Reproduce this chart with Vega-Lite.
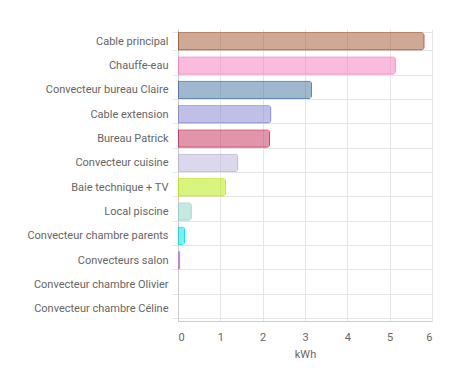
{
  "$schema": "https://vega.github.io/schema/vega-lite/v6.json",
  "width": 254,
  "height": 292,
  "autosize": {"type": "none"},
  "padding": {"left": 178, "top": 29, "right": 37, "bottom": 70},
  "background": "#ffffff",
  "data": {
    "values": [
      {"name": "Cable principal", "kwh": 5.82, "color": "#a0522d"},
      {"name": "Chauffe-eau", "kwh": 5.14, "color": "#f577bc"},
      {"name": "Convecteur bureau Claire", "kwh": 3.16, "color": "#41719f"},
      {"name": "Cable extension", "kwh": 2.2, "color": "#8080d2"},
      {"name": "Bureau Patrick", "kwh": 2.17, "color": "#c62a58"},
      {"name": "Convecteur cuisine", "kwh": 1.42, "color": "#b9b1d9"},
      {"name": "Baie technique + TV", "kwh": 1.13, "color": "#b5eb00"},
      {"name": "Local piscine", "kwh": 0.32, "color": "#8bd1c1"},
      {"name": "Convecteur chambre parents", "kwh": 0.165, "color": "#00dede"},
      {"name": "Convecteurs salon", "kwh": 0.05, "color": "#b57cc0"},
      {"name": "Convecteur chambre Olivier", "kwh": 0, "color": "#999999"},
      {"name": "Convecteur chambre Céline", "kwh": 0, "color": "#999999"}
    ]
  },
  "mark": {
    "type": "bar",
    "fillOpacity": 0.5,
    "strokeWidth": 1.5,
    "cornerRadiusEnd": 3
  },
  "encoding": {
    "y": {
      "field": "name",
      "type": "nominal",
      "sort": null,
      "scale": {"paddingInner": 0.26, "paddingOuter": 0.13},
      "axis": {
        "title": null,
        "tickBand": "extent",
        "ticks": true,
        "tickSize": 6,
        "tickColor": "#e5e5e5",
        "grid": true,
        "gridColor": "#e5e5e5",
        "domainColor": "#cccccc",
        "labelFont": "Roboto",
        "labelFontSize": 11,
        "labelColor": "#666666",
        "labelPadding": 4,
        "labelLimit": 300
      }
    },
    "x": {
      "field": "kwh",
      "type": "quantitative",
      "scale": {"domain": [0, 6], "nice": false},
      "axis": {
        "title": "kWh",
        "titleFont": "Roboto",
        "titleFontSize": 11,
        "titleFontWeight": "normal",
        "titleColor": "#666666",
        "titlePadding": 6,
        "values": [0, 1, 2, 3, 4, 5, 6],
        "ticks": false,
        "grid": true,
        "gridColor": "#e5e5e5",
        "domainColor": "#cccccc",
        "labelFont": "Roboto",
        "labelFontSize": 11,
        "labelColor": "#666666",
        "labelPadding": 10
      }
    },
    "fill": {"field": "color", "type": "nominal", "scale": null},
    "stroke": {"field": "color", "type": "nominal", "scale": null}
  },
  "config": {"view": {"stroke": null}}
}
